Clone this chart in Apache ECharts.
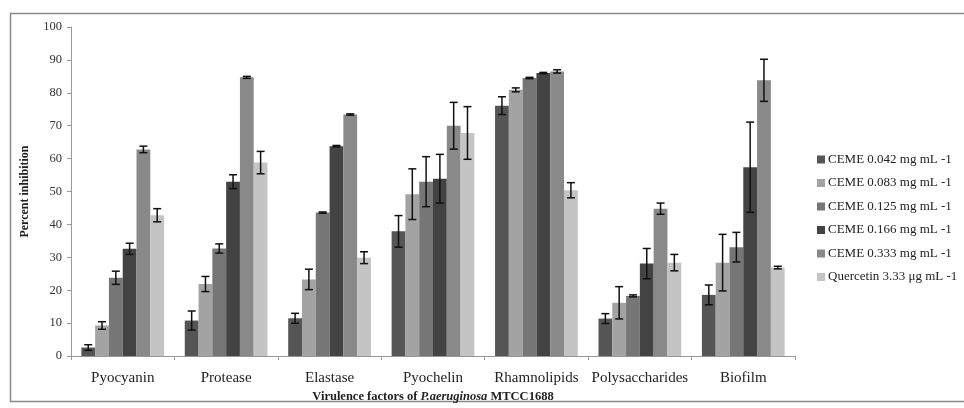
<!DOCTYPE html>
<html><head><meta charset="utf-8">
<script src="https://cdn.jsdelivr.net/npm/echarts@6/dist/echarts.min.js"></script>
<style>html,body{margin:0;padding:0;background:#fff}#c{width:964px;height:408px}</style>
</head><body><div id="c"></div>
<script>
const categories = ['Pyocyanin','Protease','Elastase','Pyochelin','Rhamnolipids','Polysaccharides','Biofilm'];
const seriesNames = ['CEME 0.042 mg mL -1','CEME 0.083 mg mL -1','CEME 0.125 mg mL -1','CEME 0.166 mg mL -1','CEME 0.333 mg mL -1','Quercetin 3.33 μg mL -1'];
const ceme042 = [2.6, 10.8, 11.5, 37.9, 76.1, 11.4, 18.6];
const ceme083 = [9.3, 21.9, 23.3, 49.2, 80.9, 16.2, 28.4];
const ceme125 = [23.8, 32.7, 43.6, 53.0, 84.5, 18.3, 33.1];
const ceme166 = [32.6, 53.0, 63.8, 53.9, 86.0, 28.1, 57.4];
const ceme333 = [62.8, 84.7, 73.4, 70.0, 86.5, 44.8, 83.8];
const quercetin = [42.8, 58.8, 29.9, 67.8, 50.4, 28.4, 26.9];
const err042 = [0.85, 2.9, 1.5, 4.8, 2.7, 1.5, 3.0];
const err083 = [1.15, 2.3, 3.1, 7.7, 0.6, 4.9, 8.6];
const err125 = [2.0, 1.4, 0.2, 7.6, 0.2, 0.3, 4.5];
const err166 = [1.7, 2.1, 0.2, 7.4, 0.2, 4.6, 13.7];
const err333 = [1.0, 0.3, 0.2, 7.1, 0.5, 1.7, 6.4];
const errQuer = [2.0, 3.4, 1.8, 8.0, 2.3, 2.5, 0.4];
const yTicks = {min: 0, max: 100, interval: 10};

const values = [ceme042, ceme083, ceme125, ceme166, ceme333, quercetin];
const errors = [err042, err083, err125, err166, err333, errQuer];
const colors = ['#555555','#a3a3a3','#767676','#434343','#898989','#c4c4c4'];
const nS = values.length;
const catGapRatio = 0.2;

const series = [];
values.forEach((vals, s) => {
  series.push({
    name: seriesNames[s], type: 'bar', data: vals,
    barGap: '0%', barCategoryGap: '20%',
    itemStyle: {color: colors[s]}
  });
});
values.forEach((vals, s) => {
  series.push({
    type: 'custom', name: seriesNames[s] + ' err', z: 10,
    data: vals.map((v, i) => [i, v - errors[s][i], v + errors[s][i]]),
    renderItem: function (params, api) {
      const i = api.value(0);
      const lo = api.coord([i, api.value(1)]);
      const hi = api.coord([i, api.value(2)]);
      const band = api.size([1, 0])[0];
      const bw = band * (1 - catGapRatio) / nS;
      const x = lo[0] + (s - (nS - 1) / 2) * bw;
      const cap = 4;
      const st = {stroke: '#111', lineWidth: 1.5};
      return {type: 'group', children: [
        {type: 'line', shape: {x1: x, y1: lo[1], x2: x, y2: hi[1]}, style: st},
        {type: 'line', shape: {x1: x - cap, y1: lo[1], x2: x + cap, y2: lo[1]}, style: st},
        {type: 'line', shape: {x1: x - cap, y1: hi[1], x2: x + cap, y2: hi[1]}, style: st}
      ]};
    }
  });
});

const font = '"Liberation Serif", "DejaVu Serif", serif';
const chart = echarts.init(document.getElementById('c'), null, {renderer: 'canvas'});
chart.setOption({
  animation: false,
  textStyle: {fontFamily: font},
  graphic: [{type: 'rect', left: 8, top: 11, shape: {width: 970, height: 388},
    style: {fill: 'none', stroke: '#8a8a8a', lineWidth: 1.5}, silent: true}],
  grid: {left: 71, right: 169, top: 27, bottom: 48, containLabel: false},
  legend: {
    orient: 'vertical', left: 812, top: 148, itemWidth: 8, itemHeight: 8, itemGap: 10.5,
    icon: 'rect',
    data: seriesNames,
    textStyle: {fontFamily: font, fontSize: 13, color: '#222', padding: [0,0,0,-2]}
  },
  xAxis: {
    type: 'category', data: categories,
    axisLine: {lineStyle: {color: '#999', width: 1}},
    axisTick: {show: true, length: 4, lineStyle: {color: '#999'}},
    axisLabel: {fontFamily: font, fontSize: 15, color: '#222', margin: 14, interval: 0},
    name: '{n|Virulence factors of }{i|P.aeruginosa}{n| MTCC1688}',
    nameLocation: 'middle', nameGap: 30,
    nameTextStyle: {
      rich: {
        n: {fontFamily: font, fontSize: 12.5, fontWeight: 'bold', color: '#222'},
        i: {fontFamily: font, fontSize: 12.5, fontWeight: 'bold', fontStyle: 'italic', color: '#222'}
      }
    }
  },
  yAxis: {
    type: 'value', min: yTicks.min, max: yTicks.max, interval: yTicks.interval,
    axisLine: {show: true, lineStyle: {color: '#999'}},
    axisTick: {show: true, length: 4, lineStyle: {color: '#999'}},
    splitLine: {show: false},
    axisLabel: {fontFamily: font, fontSize: 12.5, color: '#333', margin: 9},
    name: 'Percent inhibition', nameLocation: 'middle', nameGap: 40,
    nameTextStyle: {fontFamily: font, fontSize: 12, fontWeight: 'bold', color: '#222'}
  },
  series: series
});
</script></body></html>
